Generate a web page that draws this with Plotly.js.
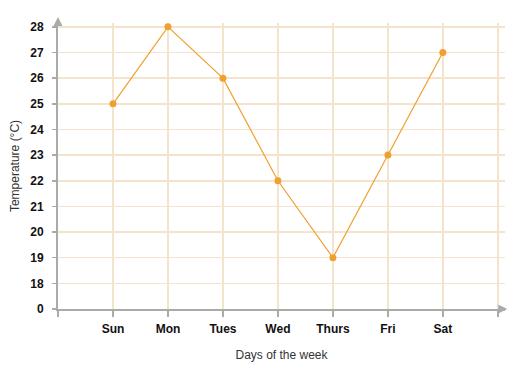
<!DOCTYPE html>
<html>
<head>
<meta charset="utf-8">
<script src="https://cdn.plot.ly/plotly-3.0.1.min.js"></script>
<style>html,body{margin:0;padding:0;background:#fff;}#chart{width:516px;height:376px;}</style>
</head>
<body>
<div id="chart"></div>
<script>
// Data
const days = ['Sun', 'Mon', 'Tues', 'Wed', 'Thurs', 'Fri', 'Sat'];
const temps = [25, 28, 26, 22, 19, 23, 27];
// Broken y axis: the bottom tick "0" sits one step below 18
const yTickVals = [17, 18, 19, 20, 21, 22, 23, 24, 25, 26, 27, 28];
const yTickText = ['0', '18', '19', '20', '21', '22', '23', '24', '25', '26', '27', '28'];

const xIdx = days.map((d, i) => i);
const xTickVals = [-1].concat(xIdx, [days.length]);
const xTickText = [''].concat(days, ['']);

const orange = '#f0a030';
const grid = '#f5e4cc';
const axisGrey = '#aaaaaa';

const trace = {
  x: xIdx,
  y: temps,
  type: 'scatter',
  mode: 'lines+markers',
  line: {color: orange, width: 1.2},
  marker: {color: orange, size: 7},
  cliponaxis: false,
  hoverinfo: 'skip'
};

const layout = {
  width: 516, height: 376,
  margin: {l: 58, r: 11, t: 23, b: 67},
  paper_bgcolor: '#ffffff',
  plot_bgcolor: '#ffffff',
  showlegend: false,
  font: {family: 'Liberation Sans, Arial, sans-serif', color: '#222'},
  xaxis: {
    range: [-1, 7.13],
    tickvals: xTickVals,
    ticktext: xTickText,
    tickfont: {size: 12, color: '#111', family: 'Liberation Sans, Arial, sans-serif', weight: 'bold'},
    showgrid: true, gridcolor: grid, gridwidth: 1.5,
    zeroline: false,
    showline: true, linecolor: axisGrey, linewidth: 2,
    ticks: 'outside', ticklen: 6, tickcolor: axisGrey, tickwidth: 1.5,
    ticklabelstandoff: 2,
    title: {text: 'Days of the week', font: {size: 12, color: '#333'}, standoff: 15},
    fixedrange: true
  },
  yaxis: {
    range: [17, 28.15],
    tickvals: yTickVals,
    ticktext: yTickText,
    tickfont: {size: 12, color: '#111', family: 'Liberation Sans, Arial, sans-serif', weight: 'bold'},
    showgrid: true, gridcolor: grid, gridwidth: 1.5,
    zeroline: false,
    showline: true, linecolor: axisGrey, linewidth: 2,
    ticks: 'outside', ticklen: 4, tickcolor: axisGrey, tickwidth: 1.5,
    ticklabelstandoff: 6,
    title: {text: 'Temperature (\u00B0C)', font: {size: 12, color: '#333'}, standoff: 8},
    fixedrange: true
  },
  annotations: [
    {xref: 'paper', yref: 'paper', x: 0, y: 1.021, ax: 0, ay: 12, showarrow: true,
     arrowhead: 2, arrowsize: 0.9, arrowwidth: 2, arrowcolor: axisGrey, text: ' '},
    {xref: 'paper', yref: 'paper', x: 1.005, y: 0, ax: -12, ay: 0, showarrow: true,
     arrowhead: 2, arrowsize: 0.9, arrowwidth: 2, arrowcolor: axisGrey, text: ' '}
  ]
};

Plotly.newPlot('chart', [trace], layout, {displayModeBar: false, staticPlot: true});
</script>
</body>
</html>
